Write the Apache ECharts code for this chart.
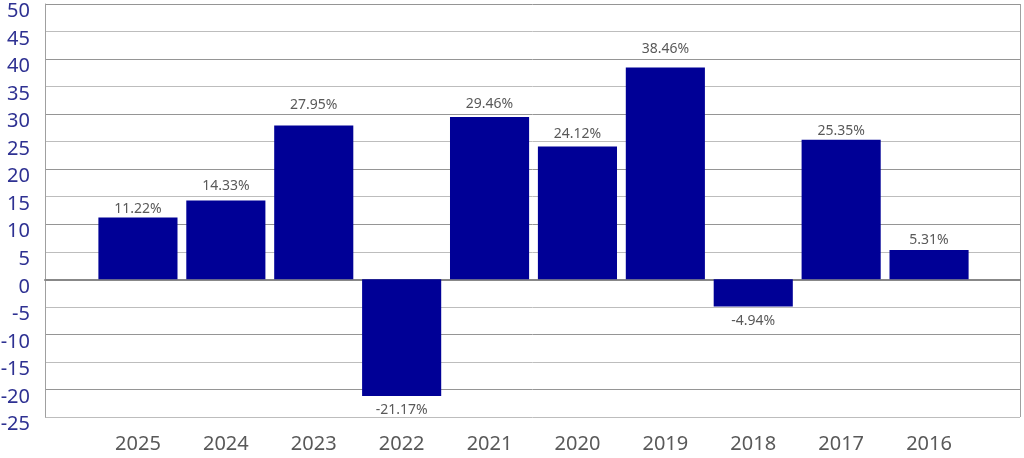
<!DOCTYPE html>
<html>
<head>
<meta charset="utf-8">
<script src="https://cdn.jsdelivr.net/npm/echarts@6/dist/echarts.min.js"></script>
<style>html,body{margin:0;padding:0;background:#fff;}#c{width:1024px;height:458px;}</style>
</head>
<body>
<div id="c"></div>
<script>
const categories = ['2025','2024','2023','2022','2021','2020','2019','2018','2017','2016'];
const returns = [11.22, 14.33, 27.95, -21.17, 29.46, 24.12, 38.46, -4.94, 25.35, 5.31];
const yMin = -25, yMax = 50, yStep = 5;
// gap (px) between each bar end and its value label, as placed in the original
const labelGap = [2, 7, 13, 7, 6, 5, 12, 7, 2, 3];

const chart = echarts.init(document.getElementById('c'));
const barData = returns.map((v, i) => ({
  value: v,
  label: { position: v >= 0 ? 'top' : 'bottom', distance: labelGap[i] }
}));
const font = '"Noto Sans", "Open Sans", sans-serif';
chart.setOption({
  animation: false,
  grid: [
    { left: 45, right: 4, top: 4, bottom: 41, containLabel: false, outerBoundsMode: 'none' },
    { left: 94, right: 51, top: 4, bottom: 41, containLabel: false, outerBoundsMode: 'none' }
  ],
  xAxis: [
    { gridIndex: 0, type: 'value', min: 0, max: 1, interval: 1,
      axisLabel: { show: false }, axisTick: { show: false },
      axisLine: { show: true, onZero: true, lineStyle: { color: '#888888', width: 2 } },
      splitLine: { show: true, lineStyle: { color: '#a0a0a0', width: 1 } } },
    { gridIndex: 1, type: 'category', data: categories,
      axisLine: { show: false }, axisTick: { show: false },
      axisLabel: { color: '#595959', fontSize: 20, fontFamily: font, margin: 17 } }
  ],
  yAxis: [
    { gridIndex: 0, type: 'value', min: yMin, max: yMax, interval: yStep,
      axisLine: { show: true, lineStyle: { color: '#a0a0a0', width: 1 } },
      axisTick: { show: false },
      axisLabel: { color: '#2e3192', fontSize: 20, fontFamily: font, margin: 15,
                   verticalAlign: 'top', lineHeight: 15 },
      splitLine: { show: true, lineStyle: { color: ['#bdbdbd', '#959595'], width: 1 } } },
    { gridIndex: 1, type: 'value', min: yMin, max: yMax, interval: yStep, show: false,
      splitLine: { show: false } }
  ],
  series: [{
    type: 'bar', xAxisIndex: 1, yAxisIndex: 1,
    data: barData,
    barCategoryGap: '10%',
    itemStyle: { color: '#000096' },
    label: { show: true, color: '#595959', fontSize: 14, fontFamily: font,
             formatter: p => p.value.toFixed(2) + '%' }
  }]
});
</script>
</body>
</html>
